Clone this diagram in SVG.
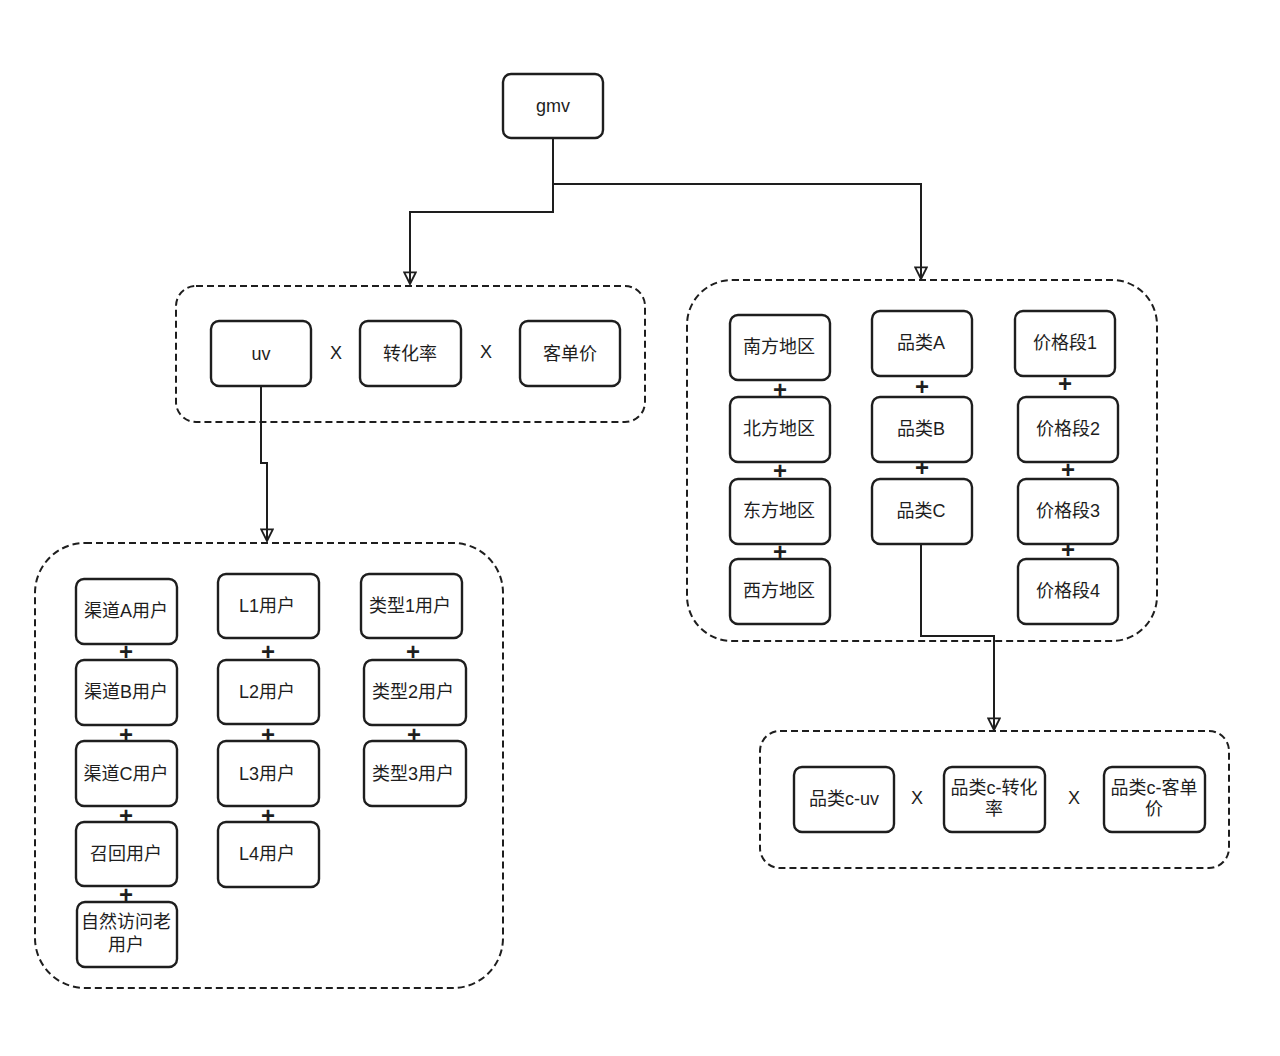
<svg xmlns="http://www.w3.org/2000/svg" width="1280" height="1056" viewBox="0 0 1280 1056">
<defs>
<style>
.n{fill:#fff;stroke:#1e1e1e;stroke-width:2.4}
.g{fill:none;stroke:#1e1e1e;stroke-width:2;stroke-dasharray:7 4}
.t{font-family:"Liberation Sans","Noto Sans CJK SC",sans-serif;font-size:18px;fill:#1e1e1e;text-anchor:middle;dominant-baseline:central}
.p{font-family:"Liberation Sans","Noto Sans CJK SC",sans-serif;font-size:24px;font-weight:bold;fill:#1e1e1e;text-anchor:middle;dominant-baseline:central}
.c{fill:none;stroke:#1e1e1e;stroke-width:2;marker-end:url(#a)}
</style>
<marker id="a" markerWidth="14" markerHeight="14" refX="11" refY="6" orient="auto" markerUnits="userSpaceOnUse" viewBox="0 0 12 12">
<path d="M1,1 L11,6 L1,11 Z" fill="none" stroke="#1e1e1e" stroke-width="1.6"/>
</marker>
</defs>
<rect width="1280" height="1056" fill="#fff"/>

<g id="groups">
<rect id="g1" class="g" x="176" y="286" width="469" height="136" rx="20"/>
<rect id="g2" class="g" x="35" y="543" width="468" height="445" rx="50"/>
<rect id="g3" class="g" x="687" y="280" width="470" height="361" rx="45"/>
<rect id="g4" class="g" x="760" y="731" width="469" height="137" rx="20"/>
</g>

<g id="connectors">
<path class="c" d="M553,138 V184 H921 V279"/>
<path class="c" d="M553,138 V212 H410 V284"/>
<path class="c" d="M261,386 V463 H267 V541"/>
<path class="c" d="M921,544 V636 H994 V730"/>
</g>

<g id="n-gmv"><rect class="n" x="503" y="74" width="100" height="64" rx="8"/><text class="t" x="553" y="106">gmv</text></g>

<g id="n-uv"><rect class="n" x="211" y="321" width="100" height="65" rx="8"/><text class="t" x="261" y="354">uv</text></g>
<g id="n-zhl"><rect class="n" x="360" y="321" width="101" height="65" rx="8"/><text class="t" x="410" y="354">转化率</text></g>
<g id="n-kdj"><rect class="n" x="520" y="321" width="100" height="65" rx="8"/><text class="t" x="570" y="354">客单价</text></g>
<text class="t" x="336" y="353">X</text>
<text class="t" x="486" y="352">X</text>

<g id="n-qda"><rect class="n" x="76" y="579" width="101" height="65" rx="8"/><text class="t" x="126" y="611">渠道A用户</text></g>
<g id="n-qdb"><rect class="n" x="76" y="660" width="101" height="65" rx="8"/><text class="t" x="126" y="692">渠道B用户</text></g>
<g id="n-qdc"><rect class="n" x="76" y="741" width="101" height="65" rx="8"/><text class="t" x="126" y="774">渠道C用户</text></g>
<g id="n-zh"><rect class="n" x="76" y="822" width="101" height="64" rx="8"/><text class="t" x="126" y="854">召回用户</text></g>
<g id="n-zr"><rect class="n" x="77" y="902" width="100" height="65" rx="8"/><text class="t" x="126" y="922">自然访问老</text><text class="t" x="126" y="945">用户</text></g>
<text class="p" x="126" y="651">+</text>
<text class="p" x="126" y="734">+</text>
<text class="p" x="126" y="815">+</text>
<text class="p" x="126" y="894">+</text>

<g id="n-l1"><rect class="n" x="218" y="574" width="101" height="64" rx="8"/><text class="t" x="267" y="606">L1用户</text></g>
<g id="n-l2"><rect class="n" x="218" y="660" width="101" height="64" rx="8"/><text class="t" x="267" y="692">L2用户</text></g>
<g id="n-l3"><rect class="n" x="218" y="741" width="101" height="65" rx="8"/><text class="t" x="267" y="774">L3用户</text></g>
<g id="n-l4"><rect class="n" x="218" y="822" width="101" height="65" rx="8"/><text class="t" x="267" y="854">L4用户</text></g>
<text class="p" x="268" y="651">+</text>
<text class="p" x="268" y="734">+</text>
<text class="p" x="268" y="815">+</text>

<g id="n-lx1"><rect class="n" x="361" y="574" width="101" height="64" rx="8"/><text class="t" x="410" y="606">类型1用户</text></g>
<g id="n-lx2"><rect class="n" x="364" y="660" width="102" height="65" rx="8"/><text class="t" x="413" y="692">类型2用户</text></g>
<g id="n-lx3"><rect class="n" x="364" y="741" width="102" height="65" rx="8"/><text class="t" x="413" y="774">类型3用户</text></g>
<text class="p" x="413" y="651">+</text>
<text class="p" x="414" y="734">+</text>

<g id="n-nf"><rect class="n" x="730" y="315" width="100" height="65" rx="8"/><text class="t" x="779" y="347">南方地区</text></g>
<g id="n-bf"><rect class="n" x="730" y="397" width="100" height="65" rx="8"/><text class="t" x="779" y="429">北方地区</text></g>
<g id="n-df"><rect class="n" x="730" y="479" width="100" height="65" rx="8"/><text class="t" x="779" y="511">东方地区</text></g>
<g id="n-xf"><rect class="n" x="730" y="559" width="100" height="65" rx="8"/><text class="t" x="779" y="591">西方地区</text></g>
<text class="p" x="780" y="389">+</text>
<text class="p" x="780" y="470">+</text>
<text class="p" x="780" y="551">+</text>

<g id="n-pla"><rect class="n" x="872" y="311" width="100" height="65" rx="8"/><text class="t" x="921" y="343">品类A</text></g>
<g id="n-plb"><rect class="n" x="872" y="397" width="100" height="65" rx="8"/><text class="t" x="921" y="429">品类B</text></g>
<g id="n-plc"><rect class="n" x="872" y="479" width="100" height="65" rx="8"/><text class="t" x="921" y="511">品类C</text></g>
<text class="p" x="922" y="386">+</text>
<text class="p" x="922" y="467">+</text>

<g id="n-jg1"><rect class="n" x="1015" y="311" width="100" height="65" rx="8"/><text class="t" x="1065" y="343">价格段1</text></g>
<g id="n-jg2"><rect class="n" x="1018" y="397" width="100" height="65" rx="8"/><text class="t" x="1068" y="429">价格段2</text></g>
<g id="n-jg3"><rect class="n" x="1018" y="479" width="100" height="65" rx="8"/><text class="t" x="1068" y="511">价格段3</text></g>
<g id="n-jg4"><rect class="n" x="1018" y="559" width="100" height="65" rx="8"/><text class="t" x="1068" y="591">价格段4</text></g>
<text class="p" x="1065" y="383">+</text>
<text class="p" x="1068" y="469">+</text>
<text class="p" x="1068" y="549">+</text>

<g id="n-cuv"><rect class="n" x="794" y="767" width="100" height="65" rx="8"/><text class="t" x="844" y="799">品类c-uv</text></g>
<g id="n-czh"><rect class="n" x="944" y="767" width="101" height="65" rx="8"/><text class="t" x="994" y="788">品类c-转化</text><text class="t" x="994" y="809">率</text></g>
<g id="n-ckd"><rect class="n" x="1104" y="767" width="101" height="65" rx="8"/><text class="t" x="1154" y="788">品类c-客单</text><text class="t" x="1154" y="809">价</text></g>
<text class="t" x="917" y="798">X</text>
<text class="t" x="1074" y="798">X</text>
</svg>
